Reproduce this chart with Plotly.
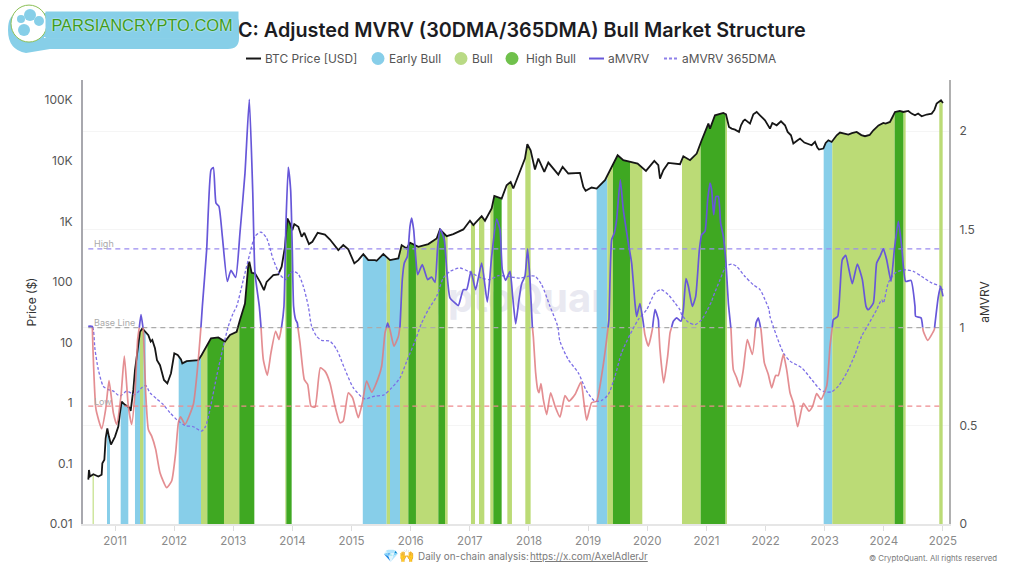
import numpy as np
import plotly.graph_objects as go

TITLE = "C: Adjusted MVRV (30DMA/365DMA) Bull Market Structure"
year_ticks = list(range(2011, 2026))
price_ticks = [0.01, 0.1, 1, 10, 100, 1000, 10000, 100000]
price_tick_text = ["0.01", "0.1", "1", "10", "100", "1K", "10K", "100K"]
mvrv_ticks = [0, 0.5, 1, 1.5, 2]
mvrv_tick_text = ["0", "0.5", "1", "1.5", "2"]
level_high, level_base, level_low = 1.4, 1.0, 0.6

price_years = [2010.549,2010.56,2010.577,2010.634,2010.718,2010.774,2010.786,2010.82,2010.842,2010.87,2010.898,2010.932,2011.0,2011.056,2011.084,2011.113,2011.169,2011.243,2011.265,2011.31,2011.338,2011.383,2011.423,2011.462,2011.507,2011.564,2011.603,2011.631,2011.676,2011.71,2011.761,2011.806,2011.828,2011.885,2011.947,2012.003,2012.06,2012.116,2012.138,2012.212,2012.296,2012.409,2012.465,2012.55,2012.623,2012.747,2012.86,2012.944,2013.057,2013.113,2013.17,2013.198,2013.254,2013.271,2013.311,2013.367,2013.452,2013.519,2013.564,2013.677,2013.762,2013.818,2013.874,2013.914,2013.959,2013.998,2014.032,2014.1,2014.156,2014.201,2014.28,2014.337,2014.427,2014.55,2014.635,2014.776,2014.86,2014.945,2015.047,2015.114,2015.199,2015.283,2015.396,2015.424,2015.537,2015.65,2015.791,2015.847,2015.932,2015.988,2016.129,2016.298,2016.439,2016.495,2016.608,2016.72,2016.89,2017.002,2017.059,2017.2,2017.256,2017.369,2017.414,2017.538,2017.622,2017.69,2017.735,2017.847,2017.932,2017.972,2018.028,2018.101,2018.158,2018.259,2018.327,2018.496,2018.569,2018.665,2018.862,2018.919,2018.958,2019.059,2019.144,2019.285,2019.398,2019.499,2019.595,2019.736,2019.837,2019.978,2020.119,2020.187,2020.215,2020.272,2020.356,2020.554,2020.61,2020.723,2020.836,2020.92,2021.033,2021.061,2021.145,2021.286,2021.331,2021.382,2021.427,2021.484,2021.551,2021.585,2021.625,2021.653,2021.698,2021.737,2021.794,2021.85,2021.906,2021.991,2022.075,2022.115,2022.188,2022.261,2022.329,2022.374,2022.43,2022.47,2022.543,2022.583,2022.656,2022.695,2022.78,2022.836,2022.876,2022.904,2022.977,2023.017,2023.062,2023.118,2023.203,2023.259,2023.33,2023.4,2023.46,2023.541,2023.62,2023.682,2023.76,2023.823,2023.91,2023.992,2024.03,2024.104,2024.145,2024.189,2024.27,2024.33,2024.414,2024.47,2024.527,2024.58,2024.64,2024.725,2024.809,2024.855,2024.893,2024.967,2025.0]
price_usd = [0.054,0.078,0.061,0.0665,0.061,0.065,0.101,0.115,0.26,0.38,0.278,0.205,0.278,0.407,0.676,1.05,0.93,0.84,0.74,1.64,3.5,7.5,15,17,15,13.2,10.3,11,8,5.1,4.2,2.9,2.4,2.1,3.1,6.6,6.2,5.25,4.5,4.9,5,5.1,6.2,8.5,11.7,12.1,10.3,13.3,15,23.4,34,44,189,215,141,138,100,73,100,129,133,178,380,1114,922,716,900,813,556,646,421,460,646,606,501,335,405,344,202,229,288,229,229,223,288,229,244,405,356,443,380,421,521,735,570,615,735,1021,865,1219,1021,1629,2636,2382,3955,4487,3483,6561,10890,18790,14960,7178,10890,6561,9354,5929,7943,6166,6324,3715,3192,3622,3483,4786,7943,12350,10230,9594,9016,6823,9977,8453,5093,6998,9247,8790,11910,10230,13183,21878,41210,34040,56490,61800,58750,36300,34040,32780,30000,38640,45600,47970,43870,41210,58750,64120,56490,46770,34040,42270,38640,44970,38640,30000,26420,19280,21880,23300,20000,19280,18070,20510,16560,15350,15920,19770,21880,20510,26420,29240,28200,27100,28700,30000,26600,25470,26700,31990,38400,42270,41300,43870,52500,64120,66500,64120,66680,60300,56490,60300,54450,58200,60260,69300,88100,100000,90400]

mvrv_years = [2010.55,2010.617,2010.628,2010.679,2010.775,2010.842,2010.899,2010.972,2011.028,2011.101,2011.158,2011.225,2011.282,2011.338,2011.383,2011.44,2011.479,2011.519,2011.564,2011.62,2011.688,2011.761,2011.873,2011.958,2012.026,2012.071,2012.11,2012.183,2012.324,2012.409,2012.454,2012.477,2012.55,2012.623,2012.663,2012.708,2012.758,2012.815,2012.899,2012.961,2013.04,2013.113,2013.198,2013.271,2013.328,2013.367,2013.44,2013.468,2013.508,2013.576,2013.637,2013.716,2013.773,2013.818,2013.857,2013.891,2013.93,2013.97,2013.998,2014.02,2014.055,2014.083,2014.128,2014.201,2014.258,2014.314,2014.382,2014.472,2014.55,2014.635,2014.72,2014.804,2014.86,2014.945,2015.018,2015.114,2015.182,2015.255,2015.34,2015.452,2015.509,2015.565,2015.61,2015.65,2015.717,2015.791,2015.819,2015.858,2015.892,2015.943,2015.988,2016.016,2016.05,2016.084,2016.117,2016.196,2016.287,2016.354,2016.411,2016.456,2016.5,2016.568,2016.613,2016.664,2016.749,2016.805,2016.89,2016.946,2017.019,2017.098,2017.2,2017.295,2017.369,2017.453,2017.51,2017.549,2017.605,2017.679,2017.724,2017.775,2017.831,2017.876,2017.932,2017.977,2018.017,2018.056,2018.073,2018.113,2018.147,2018.169,2018.203,2018.242,2018.299,2018.366,2018.44,2018.524,2018.609,2018.676,2018.778,2018.879,2018.93,2018.975,2019.059,2019.144,2019.24,2019.313,2019.352,2019.398,2019.443,2019.482,2019.544,2019.595,2019.68,2019.736,2019.792,2019.82,2019.876,2019.933,2019.96,2020.018,2020.085,2020.131,2020.187,2020.215,2020.278,2020.345,2020.385,2020.441,2020.497,2020.571,2020.61,2020.655,2020.695,2020.762,2020.819,2020.881,2020.92,2020.976,2021.021,2021.061,2021.089,2021.123,2021.162,2021.202,2021.241,2021.286,2021.331,2021.371,2021.416,2021.455,2021.512,2021.568,2021.624,2021.692,2021.777,2021.839,2021.878,2021.923,2021.98,2022.047,2022.104,2022.171,2022.216,2022.301,2022.357,2022.414,2022.47,2022.543,2022.639,2022.735,2022.797,2022.864,2022.938,2023.034,2023.09,2023.13,2023.146,2023.22,2023.259,2023.298,2023.355,2023.411,2023.467,2023.552,2023.637,2023.699,2023.738,2023.823,2023.879,2023.936,2023.992,2024.048,2024.121,2024.178,2024.245,2024.302,2024.369,2024.459,2024.527,2024.538,2024.629,2024.668,2024.742,2024.854,2024.922,2024.961,2025.0]
mvrv_values = [1.006,1.006,0.888,0.583,0.485,0.583,0.730,0.566,0.507,0.651,0.854,0.600,0.507,0.668,0.939,1.066,0.989,0.668,0.481,0.447,0.380,0.261,0.185,0.219,0.363,0.515,0.546,0.507,0.608,0.837,1.006,1.108,1.396,1.802,1.814,1.633,1.616,1.464,1.235,1.291,1.255,1.481,1.786,2.162,1.701,1.277,1.108,1.006,0.837,0.757,0.871,0.981,0.939,1.006,1.108,1.531,1.816,1.701,1.396,1.108,1.04,1.023,0.922,0.735,0.71,0.6,0.595,0.795,0.778,0.718,0.6,0.515,0.524,0.668,0.642,0.541,0.617,0.727,0.671,0.744,0.803,0.972,1.023,0.989,0.905,0.955,1.006,1.244,1.328,1.362,1.515,1.557,1.498,1.362,1.269,1.32,1.244,1.257,1.23,1.413,1.501,1.447,1.278,1.151,1.125,1.112,1.193,1.193,1.286,1.193,1.328,1.13,1.362,1.552,1.498,1.295,1.24,1.286,1.159,1.019,1.142,1.223,1.261,1.401,1.244,1.007,0.955,0.769,0.684,0.668,0.715,0.634,0.557,0.668,0.6,0.544,0.654,0.625,0.659,0.722,0.617,0.529,0.617,0.625,0.778,0.939,1.04,1.447,1.481,1.549,1.752,1.6,1.43,1.328,1.125,1.057,1.122,1.024,0.964,0.905,0.989,1.091,1.04,0.888,0.718,0.854,0.973,1.032,1.049,1.032,1.091,1.249,1.21,1.108,1.159,1.396,1.472,1.489,1.65,1.735,1.701,1.574,1.667,1.667,1.531,1.464,1.328,1.125,0.99,0.786,0.744,0.698,0.786,0.939,0.863,1.023,1.049,0.99,0.82,0.761,0.693,0.756,0.756,0.863,0.786,0.668,0.617,0.495,0.614,0.575,0.6,0.664,0.634,0.702,0.905,1.006,1.04,1.057,1.193,1.345,1.367,1.294,1.223,1.323,1.244,1.108,1.091,1.125,1.328,1.362,1.401,1.345,1.235,1.396,1.54,1.413,1.235,1.24,1.108,1.057,1.049,0.981,0.935,0.99,1.159,1.21,1.159]

dma_years = [2010.55,2010.617,2010.662,2010.718,2010.803,2010.887,2010.972,2011.084,2011.197,2011.338,2011.451,2011.519,2011.592,2011.704,2011.817,2011.93,2012.071,2012.183,2012.324,2012.465,2012.533,2012.606,2012.719,2012.832,2012.916,2013.0,2013.057,2013.17,2013.283,2013.367,2013.468,2013.564,2013.677,2013.79,2013.891,2013.959,2014.015,2014.1,2014.184,2014.269,2014.325,2014.41,2014.494,2014.635,2014.748,2014.889,2015.03,2015.17,2015.227,2015.396,2015.537,2015.678,2015.819,2015.932,2016.072,2016.185,2016.298,2016.439,2016.551,2016.664,2016.833,2016.974,2017.2,2017.34,2017.481,2017.622,2017.848,2017.989,2018.101,2018.214,2018.355,2018.485,2018.524,2018.665,2018.834,2018.975,2019.116,2019.229,2019.341,2019.454,2019.566,2019.708,2019.848,2019.99,2020.131,2020.232,2020.356,2020.469,2020.554,2020.582,2020.695,2020.807,2020.92,2021.005,2021.089,2021.117,2021.23,2021.331,2021.427,2021.512,2021.652,2021.794,2021.906,2021.991,2022.059,2022.075,2022.188,2022.301,2022.414,2022.611,2022.78,2022.921,2023.005,2023.118,2023.231,2023.372,2023.513,2023.625,2023.738,2023.879,2023.963,2023.992,2024.076,2024.189,2024.33,2024.499,2024.64,2024.809,2024.95,2025.0]
dma_values = [1.006,1.006,0.888,0.786,0.701,0.684,0.676,0.651,0.676,0.659,0.693,0.705,0.668,0.637,0.608,0.566,0.524,0.502,0.495,0.473,0.498,0.583,0.752,0.905,1.006,1.074,1.108,1.243,1.379,1.464,1.486,1.455,1.345,1.269,1.244,1.277,1.286,1.272,1.21,1.108,1.006,0.955,0.935,0.93,0.888,0.786,0.693,0.647,0.637,0.651,0.656,0.693,0.744,0.828,0.93,1.023,1.091,1.159,1.252,1.286,1.303,1.286,1.252,1.244,1.264,1.261,1.252,1.261,1.261,1.218,1.108,1.007,0.93,0.837,0.769,0.676,0.625,0.629,0.659,0.752,0.871,0.964,1.04,1.091,1.176,1.193,1.167,1.125,1.09,1.066,1.027,1.015,1.04,1.083,1.134,1.159,1.243,1.311,1.323,1.311,1.26,1.218,1.193,1.142,1.091,1.057,0.956,0.871,0.829,0.795,0.735,0.685,0.673,0.673,0.702,0.769,0.863,0.956,1.015,1.091,1.142,1.125,1.227,1.277,1.294,1.286,1.26,1.227,1.21,1.193]

early_bull_starts = [2010.865,2011.096,2011.338,2011.479,2012.077,2015.19,2015.65,2019.144,2022.983]
early_bull_ends = [2010.915,2011.225,2011.423,2011.519,2012.454,2015.593,2015.819,2019.324,2023.129]
bull_starts = [2010.622,2011.423,2012.454,2012.843,2013.88,2015.593,2015.819,2016.089,2016.58,2017.019,2017.155,2017.346,2017.634,2017.938,2019.324,2019.708,2020.587,2021.32,2023.129,2024.33,2024.938]
bull_ends = [2010.64,2011.479,2012.561,2013.102,2013.897,2015.65,2015.96,2016.467,2016.625,2017.087,2017.245,2017.397,2017.712,2018.028,2019.42,2019.916,2020.903,2021.348,2024.183,2024.369,2024.995]
high_bull_starts = [2012.561,2013.102,2013.897,2015.96,2016.467,2017.397,2019.42,2020.903,2024.183]
high_bull_ends = [2012.843,2013.356,2013.987,2016.089,2016.58,2017.538,2019.708,2021.32,2024.33]

EARLY, BULL, HIGH = "#87CEE9", "#BBDB76", "#3FA822"
PURPLE, RED, BLACK = "#6757D9", "#E07B7F", "#161616"
GREY = "#7a7a7a"
FONT = "Inter, 'Open Sans', sans-serif"

L, R, T, B = 83, 949, 80, 524.5
W, H = 1024, 576
px = lambda v: (v - L) / (R - L)
py = lambda v: (B - v) / (B - T)

price_years_a = np.array(price_years)
log_price = np.log10(price_usd)


def band_polygon(start, end):
    inside = (price_years_a > start) & (price_years_a < end)
    xs = np.concatenate([[start], price_years_a[inside], [end]])
    ys = 10 ** np.interp(xs, price_years_a, log_price)
    return (np.concatenate([xs, [end, start, start]]),
            np.concatenate([ys, [price_ticks[0], price_ticks[0], ys[0]]]))


def split_at_base(xs, ys, base):
    ox, oy = [], []
    for i in range(len(xs)):
        if i and (ys[i - 1] - base) * (ys[i] - base) < 0:
            t = (base - ys[i - 1]) / (ys[i] - ys[i - 1])
            ox.append(xs[i - 1] + t * (xs[i] - xs[i - 1]))
            oy.append(base)
        ox.append(xs[i])
        oy.append(ys[i])
    ox, oy = np.array(ox), np.array(oy)
    return ox, np.where(oy >= base, oy, np.nan), np.where(oy <= base, oy, np.nan)


fig = go.Figure()
fig.add_trace(go.Scatter(x=[2017.58], y=[46], mode="text", text=["CryptoQuant"], showlegend=False,
                         textfont=dict(family=FONT, size=40, color="#E9E9F1", weight=700), hoverinfo="skip"))
for starts, ends, colour in [(early_bull_starts, early_bull_ends, EARLY),
                             (bull_starts, bull_ends, BULL),
                             (high_bull_starts, high_bull_ends, HIGH)]:
    for s, e in zip(starts, ends):
        bx, by = band_polygon(s, e)
        fig.add_trace(go.Scatter(x=bx, y=by, mode="none", fill="toself", fillcolor=colour,
                                 showlegend=False, hoverinfo="skip"))

fig.add_trace(go.Scatter(x=price_years, y=price_usd, mode="lines", name="BTC Price [USD]",
                         line=dict(color=BLACK, width=1.8)))

span = [price_years[0], mvrv_years[-1]]
for level, colour in [(level_high, "#9A8BEF"), (level_base, "#ABABAB"), (level_low, "#EE8A8E")]:
    fig.add_trace(go.Scatter(x=span, y=[level, level], yaxis="y2", mode="lines", showlegend=False,
                             hoverinfo="skip", line=dict(color=colour, width=1.2, dash="5px,4px")))

mx, above, below = split_at_base(mvrv_years, mvrv_values, level_base)
fig.add_trace(go.Scatter(x=dma_years, y=dma_values, yaxis="y2", mode="lines", name="aMVRV 365DMA",
                         line=dict(color="#7D6FE6", width=1.3, dash="3px,2px", shape="spline", smoothing=0.7)))
fig.add_trace(go.Scatter(x=mx, y=below, yaxis="y2", mode="lines", showlegend=False, opacity=0.85,
                         line=dict(color=RED, width=1.7, shape="spline", smoothing=0.5)))
fig.add_trace(go.Scatter(x=mx, y=above, yaxis="y2", mode="lines", name="aMVRV",
                         line=dict(color=PURPLE, width=1.7, shape="spline", smoothing=0.5)))


def ann(text, x, y, size, colour=GREY, anchor="center", **kw):
    font = dict(family=FONT, size=size, color=colour)
    font.update(kw.pop("font", {}))
    return dict(text=text, x=px(x), y=py(y), xref="paper", yref="paper", showarrow=False, xanchor=anchor,
                yanchor="middle", font=font, **kw)


def paper_shape(kind, x0, x1, y0, y1, **kw):
    return dict(type=kind, xref="paper", yref="paper", x0=px(x0), x1=px(x1), y0=py(y0), y1=py(y1), **kw)


blue = "#87CFE8"
banner = (f"M {px(20)} {py(13)} L {px(228)} {py(13)} Q {px(239)} {py(13)} {px(239)} {py(24)} "
          f"L {px(239)} {py(38)} Q {px(239)} {py(49)} {px(228)} {py(49)} L {px(50)} {py(49)} "
          f"L {px(26)} {py(53)} Q {px(8)} {py(50)} {px(8)} {py(30)} Q {px(8)} {py(13)} {px(20)} {py(13)} Z")
shapes = [dict(type="path", path=banner, xref="paper", yref="paper", fillcolor=blue, line=dict(width=0)),
          paper_shape("line", 44, 214, 37.5, 37.5, line=dict(color="#FFFFFF", width=1)),
          paper_shape("circle", 11, 47, 5, 42, fillcolor="#FFFFFF", line=dict(color="#8BBF55", width=1))]
for cx, cy, r in [(30, 15, 6), (21, 19, 4), (39, 21, 5), (24, 30, 6)]:
    shapes.append(paper_shape("circle", cx - r, cx + r, cy - r, cy + r, fillcolor=blue, line=dict(width=0)))

legend_y = 58.5
legend_entries = [("BTC Price [USD]", "line", BLACK, 246, 263),
                  ("Early Bull", "dot", EARLY, 378, 387),
                  ("Bull", "dot", "#B9DA85", 461, 470),
                  ("High Bull", "dot", "#70C14C", 512, 524),
                  ("aMVRV", "line", PURPLE, 589, 606),
                  ("aMVRV 365DMA", "dash", "#8E80EA", 664, 680)]
legend_annotations = []
for label, kind, colour, x_mark, x_text in legend_entries:
    legend_annotations.append(ann(label, x_text, legend_y, 11.9, "#555555", "left"))
    if kind == "dot":
        shapes.append(paper_shape("circle", x_mark - 6.5, x_mark + 6.5, legend_y - 6.5, legend_y + 6.5,
                                  fillcolor=colour, line=dict(width=0)))
    else:
        shapes.append(paper_shape("line", x_mark, x_mark + 15, legend_y, legend_y,
                                  line=dict(color=colour, width=2, dash="solid" if kind == "line" else "3px,2px")))

annotations = legend_annotations + [
    ann("High", 92, 244, 9, "#AAAAAA", "left"),
    ann("Base Line", 92, 323, 9, "#AAAAAA", "left"),
    ann("Low", 92, 402, 9, "#AAAAAA", "left"),
    ann("💎🙌", 399, 556, 12.5),
    ann("Daily on-chain analysis:", 416, 557, 9.9, anchor="left"),
    ann("https://x.com/AxelAdlerJr", 528, 557, 9.8, anchor="left", font=dict(lineposition="under")),
    ann("© CryptoQuant. All rights reserved", 999, 558.5, 7.8, anchor="right"),
    ann("PARSIANCRYPTO.COM", 142, 25, 16.4, "#3E9C1C", "center", bgcolor=blue, width=190, height=24,
        font=dict(family="'Liberation Sans', sans-serif", shadow="0 0 2px #ffffff")),
]

fig.update_layout(
    width=W, height=H, margin=dict(l=L, r=W - R, t=T, b=H - B, pad=0),
    paper_bgcolor="white", plot_bgcolor="white", showlegend=False,
    title=dict(text=TITLE, x=238 / W, y=1 - 30 / H, xanchor="left", yanchor="middle",
               xref="container", yref="container", font=dict(family=FONT, size=19.8, color="#1C1C22", weight=600)),
    xaxis=dict(range=[2010.459, 2025.102], tickvals=year_ticks, ticktext=[str(y) for y in year_ticks],
               showgrid=False, zeroline=False, showline=True, linecolor="#E6E6E6", linewidth=1.5,
               ticks="outside", ticklen=5, tickcolor="#DDDDDD", tickfont=dict(family=FONT, size=11.5, color="#8A8A8A")),
    yaxis=dict(type="log", range=[-2, 5.335], tickvals=price_ticks, ticktext=price_tick_text, showgrid=False,
               zeroline=False, showline=True, linecolor="#A8A8AE", linewidth=2, ticks="", ticklabelstandoff=6,
               tickfont=dict(family=FONT, size=12, color="#555555"),
               title=dict(text="Price ($)", standoff=5, font=dict(family=FONT, size=12, color="#333333"))),
    yaxis2=dict(overlaying="y", side="right", range=[0, 2.26], tickvals=mvrv_ticks, ticktext=mvrv_tick_text,
                showgrid=True, gridcolor="#F5F5F5", gridwidth=1, zeroline=False, showline=True,
                linecolor="#B0B0B0", linewidth=2, ticks="", ticklabelstandoff=6,
                tickfont=dict(family=FONT, size=12, color="#555555"),
                title=dict(text="aMVRV", standoff=4, font=dict(family=FONT, size=12, color="#333333"))),
    shapes=shapes, annotations=annotations,
)
fig.write_html("out.html", config={"displayModeBar": False}, post_script="document.body.style.margin='0';")
